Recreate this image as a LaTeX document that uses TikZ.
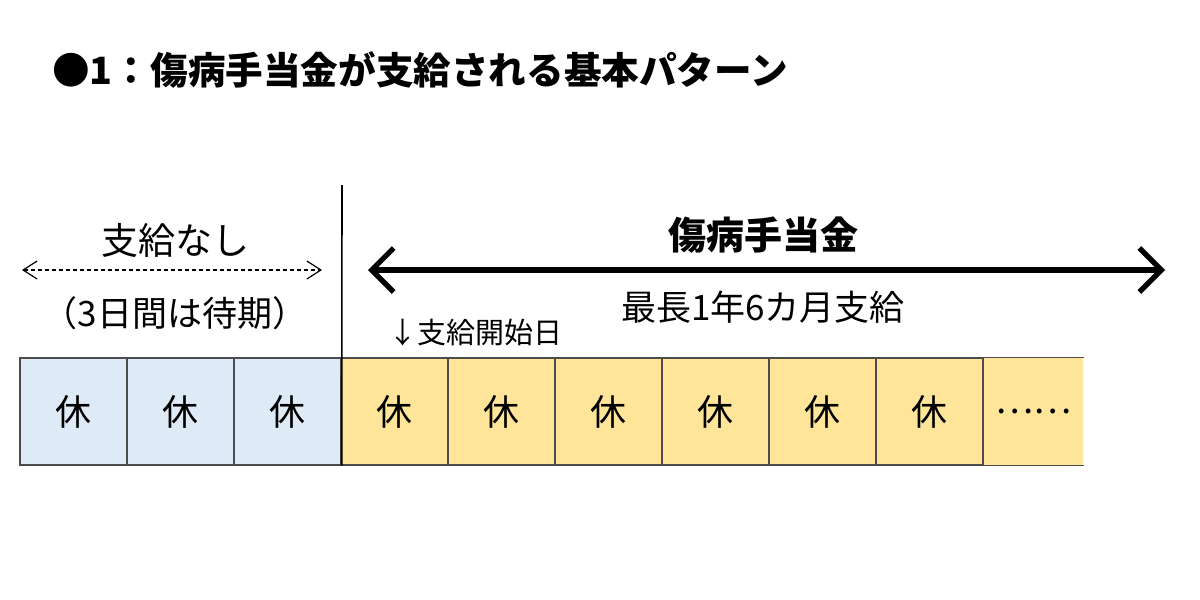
\documentclass[tikz,border=0pt]{standalone}
\usepackage{fontspec}
\usepackage{tikz}
\usetikzlibrary{arrows.meta,positioning}
\newfontfamily\jp{Noto Sans CJK JP}
\definecolor{paleblue}{rgb}{0.87,0.92,0.97}
\definecolor{paleyellow}{rgb}{1.00,0.90,0.60}
\definecolor{borde}{rgb}{0.30,0.30,0.30}
\tikzset{
  dia/.style={
    draw=borde,
    line width=0.7pt,
    minimum width=53.5pt,
    minimum height=53.5pt,
    inner sep=0pt,
    font=\jp\fontsize{18}{18}\selectfont
  },
  espera/.style={
    dia,
    fill=paleblue
  },
  pago/.style={
    dia,
    fill=paleyellow
  },
  rotulo/.style={
    inner sep=0pt,
    font=\jp\fontsize{17.5}{18}\selectfont
  },
  flechafina/.style={
    {Straight Barb[length=7pt,width=9pt]}-{Straight Barb[length=7pt,width=9pt]},
    dash pattern=on 2pt off 1.5pt,
    line width=0.6pt
  },
  flechagruesa/.style={
    {Straight Barb[length=11pt,width=22pt]}-{Straight Barb[length=11pt,width=22pt]},
    line width=2.6pt
  }
}

\begin{document}
\begin{tikzpicture}[x=0.5pt,y=-0.5pt]
\useasboundingbox (0,0) rectangle (1200,600);
\node[anchor=west,inner sep=0pt,font=\jp\bfseries\fontsize{18.8}{19}\selectfont] (titulo) at (52,70) {●1：傷病手当金が支給される基本パターン};
% dias
\foreach \i in {0,1,2}
  \node[espera] (d\i) at ({73.5+107*\i},411.5) {休};
\foreach \i in {3,...,8}
  \node[pago] (d\i) at ({73.5+107*\i},411.5) {休};
\node[pago,draw=none,minimum width=49.5pt,anchor=west] (resto) at (d8.east) {……};
\draw[draw=borde,line width=0.7pt] (resto.north west) -- (resto.north east);
\draw[draw=borde,line width=0.7pt] (resto.south west) -- (resto.south east);
% separacion
\coordinate (sepa) at (342,185);
\draw[line width=0.8pt] (sepa) -- (d2.south east);
% sin pago
\node[rotulo,font=\jp\fontsize{18.5}{19}\selectfont] (nashi) at (175,240) {支給なし};
\node[rotulo] (taiki) at (175,313) {（3日間は待期）};
\coordinate (n1) at (22,270);
\coordinate (n2) at (322,270);
\draw[flechafina] (n1) -- (n2);
% pago
\node[rotulo,font=\jp\bfseries\fontsize{19}{19}\selectfont] (teate) at (763,235) {傷病手当金};
\node[rotulo] (plazo) at (763,307) {最長1年6カ月支給};
\coordinate (t1) at (368,270);
\coordinate (t2) at (1165,270);
\draw[flechagruesa] (t1) -- (t2);
\node[rotulo,anchor=west,font=\jp\fontsize{14.5}{15}\selectfont] (inicio) at (388,333) {↓支給開始日};
\end{tikzpicture}
\end{document}
